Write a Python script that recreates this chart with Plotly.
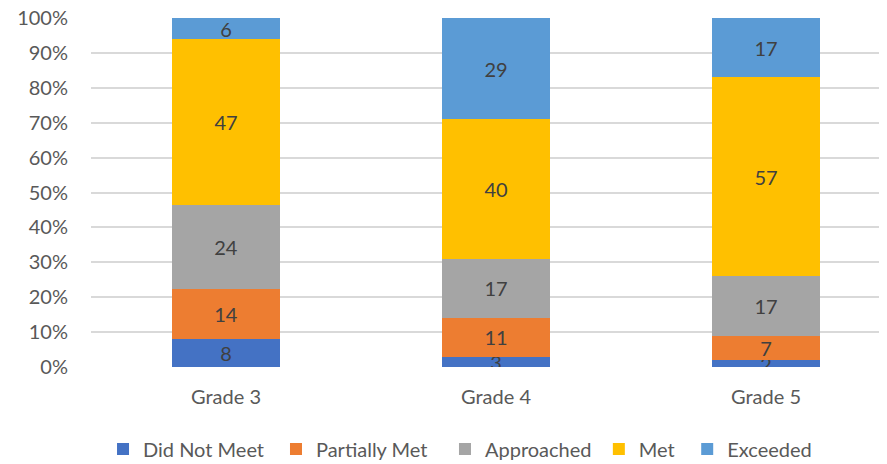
import plotly.graph_objects as go

categories = ["Grade 3", "Grade 4", "Grade 5"]
series_names = ["Did Not Meet", "Partially Met", "Approached", "Met", "Exceeded"]
did_not_meet = [8, 3, 2]
partially_met = [14, 11, 7]
approached = [24, 17, 17]
met = [47, 40, 57]
exceeded = [6, 29, 17]
y_tick_vals = [0, 10, 20, 30, 40, 50, 60, 70, 80, 90, 100]
y_tick_text = ["0%", "10%", "20%", "30%", "40%", "50%", "60%", "70%", "80%", "90%", "100%"]

colors = ["#4472C4", "#ED7D31", "#A5A5A5", "#FFC000", "#5B9BD5"]
series_values = [did_not_meet, partially_met, approached, met, exceeded]
legend_ids = ["legend", "legend2", "legend3", "legend4", "legend5"]
legend_x = [0.0151, 0.2324, 0.4447, 0.638, 0.749]

FONT = "Lato, Open Sans, sans-serif"
FS = 20

fig = go.Figure()
for name, vals, col, lid in zip(series_names, series_values, colors, legend_ids):
    fig.add_trace(go.Bar(
        x=categories, y=vals, name=name,
        marker=dict(color=col, line=dict(width=0)),
        text=[str(v) for v in vals],
        textposition="inside",
        insidetextanchor="middle",
        textangle=0,
        constraintext="none",
        textfont=dict(family=FONT, size=FS, color="#404040"),
        width=0.4,
        legend=lid,
    ))

legend_common = dict(
    orientation="h", y=-0.235, yanchor="middle", xanchor="left",
    font=dict(family=FONT, size=FS, color="#595959"),
    itemwidth=30, bgcolor="rgba(0,0,0,0)",
)
legend_layout = {lid: dict(x=lx, **legend_common) for lid, lx in zip(legend_ids, legend_x)}

fig.update_layout(
    barmode="stack",
    barnorm="percent",
    width=887, height=464,
    margin=dict(l=83, r=8, t=10, b=105, autoexpand=False),
    paper_bgcolor="white",
    plot_bgcolor="white",
    font=dict(family=FONT, size=FS, color="#595959"),
    uniformtext=dict(minsize=FS, mode="show"),
    showlegend=True,
    xaxis=dict(
        range=[-0.5, 2.448], showgrid=False, zeroline=False,
        showline=False, ticks="outside", ticklen=12, tickcolor="rgba(0,0,0,0)",
        tickfont=dict(family=FONT, size=FS, color="#595959"),
        automargin=False,
    ),
    yaxis=dict(
        range=[0, 100], tickvals=y_tick_vals, ticktext=y_tick_text,
        showgrid=True, gridcolor="#D9D9D9", gridwidth=1.5,
        zeroline=False, showline=False,
        ticks="outside", ticklen=18, tickcolor="rgba(0,0,0,0)",
        tickfont=dict(family=FONT, size=FS, color="#595959"),
        ticklabeloverflow="allow",
        automargin=False,
    ),
    **legend_layout,
)

fig.write_html("out.html")
